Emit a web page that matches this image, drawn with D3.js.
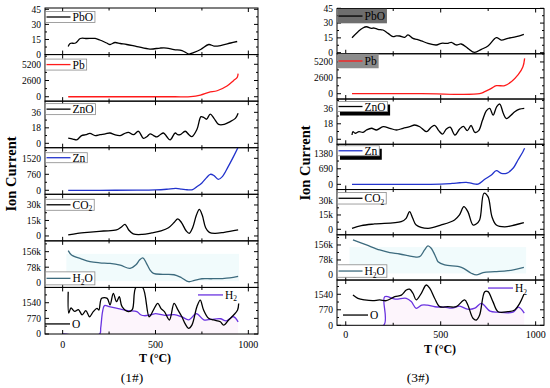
<!DOCTYPE html>
<html><head><meta charset="utf-8">
<script src="https://cdn.jsdelivr.net/npm/d3@7"></script>
<style>
body{margin:0;background:#fff}
svg{font-family:"Liberation Serif","Times New Roman",serif}
</style>
</head><body>
<svg id="chart" width="550" height="388"></svg>
<script>
// ---- data: [T (°C), ion current] ----
// figure (1#)
var pbo1 = [[30,8],[40,11],[70,11.5],[95,16],[130,16],[175,16],[200,14.5],[237,11.5],[255,10],[282,12],[310,11],[345,10],[400,8],[470,5.5],[525,6.5],[560,6.5],[600,5],[643,4],[680,0.5],[705,2],[743,5],[787,10],[815,8.5],[850,9],[905,11.5],[940,13]];
var pb1 = [[30,0],[300,0],[600,0],[690,20],[742,270],[787,700],[832,960],[885,1720],[920,2580],[940,3110],[945,3700]];
var zno1 = [[30,6],[55,5],[75,4],[102,9],[125,10],[147,11.6],[175,9],[201,10],[230,11],[255,12],[280,10],[309,9],[330,11],[354,12.8],[381,10],[408,14],[435,5.8],[455,8],[471,11],[490,9],[507,7.5],[525,10],[543,12],[560,8],[579,4],[606,12],[620,10],[633,10],[660,14],[680,10],[696,7.7],[723,16],[745,31],[760,30],[775,28],[795,34],[815,29],[840,22],[870,22],[900,25],[930,29],[945,35]];
var zn1 = [[30,0],[200,0],[400,5],[500,20],[560,50],[610,90],[640,60],[670,25],[700,30],[720,150],[750,350],[775,600],[795,760],[815,700],[838,520],[860,650],[890,1100],[920,1600],[945,2050]];
var co21 = [[30,1000],[80,2600],[150,3800],[220,4800],[290,5800],[315,8500],[336,11300],[355,6000],[380,2000],[430,1500],[480,3000],[530,5000],[570,8000],[600,13000],[620,16500],[640,13000],[665,5000],[682,2600],[700,8000],[720,20000],[736,25800],[752,20000],[770,8000],[790,3500],[820,2500],[870,3500],[945,5800]];
var h2o1 = [[30,161000],[48,139000],[100,120000],[147,106000],[200,100000],[255,97000],[310,88000],[363,72000],[395,90000],[415,115000],[432,125000],[450,100000],[470,65000],[489,47000],[540,42000],[600,40000],[640,25000],[678,5000],[710,12000],[750,20000],[800,20000],[860,21000],[900,24000],[945,32000]];
var o1 = [[30,2080],[33,1030],[45,1280],[65,1110],[85,1200],[105,940],[125,1150],[145,850],[165,1100],[185,1265],[195,1180],[210,1755],[240,1755],[255,1430],[273,2000],[290,1590],[305,1835],[320,1345],[354,1100],[375,1200],[395,2300],[430,2300],[466,850],[490,1200],[512,1510],[530,1250],[548,1100],[575,690],[600,1510],[620,1200],[642,850],[660,500],[678,280],[696,440],[723,1345],[741,1670],[759,1180],[786,770],[813,690],[849,605],[867,440],[894,690],[921,935],[942,1180],[948,1500]];
var h21 = [[0,0],[199,0],[205,300],[215,1100],[225,1400],[250,1350],[300,1250],[350,1150],[400,1100],[420,950],[440,900],[480,960],[500,1000],[550,920],[600,950],[640,850],[680,700],[720,1000],[760,700],[800,720],[850,750],[880,650],[920,850],[945,600]];

// figure (3#)
var pbo3 = [[33,15.2],[65,21.3],[90,25],[109,26.3],[135,24.7],[150,25],[170,23.7],[196,23],[223,19.6],[249,16.2],[265,17],[284,16.9],[310,15.5],[328,18],[354,14.5],[375,13.5],[398,12],[433,9.5],[477,7.8],[503,9.5],[538,9.5],[556,10.5],[582,7.8],[608,8.8],[643,4.4],[678,0.3],[714,3.4],[749,6.8],[793,15.2],[819,12.8],[854,14.5],[898,16.2],[938,18.6]];
var pb3 = [[33,0],[400,0],[705,0],[732,330],[767,880],[793,1310],[837,1310],[872,1970],[907,3070],[933,4430],[942,5800]];
var zno3 = [[33,5],[38,8.8],[50,7],[70,9],[90,8],[109,10.8],[136,12.8],[162,10.8],[197,14.6],[232,12.8],[267,10.8],[302,12.8],[337,14.6],[363,16.6],[390,14.6],[425,8.8],[450,14],[470,16],[490,10],[510,6],[530,12],[550,14],[575,5],[600,12],[620,15],[640,10],[660,16],[680,8],[700,10],[720,22],[740,33],[758,36],[776,28],[795,38],[811,41],[830,30],[846,24],[870,28],[890,32],[915,35],[940,36]];
var zn3 = [[33,0],[300,0],[500,10],[560,40],[600,70],[635,89],[665,40],[697,10],[732,222],[767,414],[793,605],[819,490],[846,490],[881,712],[907,1081],[933,1450],[942,1600]];
var co23 = [[33,1000],[82,3800],[152,5600],[292,8000],[318,11500],[336,18500],[353,11500],[371,4500],[433,1000],[503,4500],[573,9800],[599,15000],[622,23700],[643,18500],[670,4500],[687,5600],[705,9800],[728,37800],[749,34200],[770,13200],[793,4500],[837,2600],[890,4500],[938,6900]];
var h2o3 = [[38,182000],[109,156000],[179,130000],[232,116000],[284,109000],[354,95000],[389,95000],[415,130000],[433,151000],[450,139000],[477,87000],[486,69000],[521,52000],[609,40000],[661,9000],[688,0],[723,12000],[784,17000],[854,22000],[938,40000]];
var o3 = [[38,1500],[64,1340],[99,1260],[143,1220],[178,1260],[213,1220],[258,1420],[293,1500],[319,1750],[336,1790],[354,1590],[371,1260],[398,1590],[424,2000],[442,1840],[468,1340],[495,925],[538,925],[582,925],[626,1260],[643,1010],[670,350],[688,263],[705,510],[732,1670],[749,1670],[775,1175],[802,675],[854,675],[890,760],[916,1090],[938,1540]];
var h23 = [[0,0],[200,0],[205,1420],[260,1300],[319,1340],[345,1180],[371,845],[400,1000],[430,1000],[470,920],[520,900],[560,850],[600,950],[640,800],[680,850],[714,1090],[760,700],[800,650],[880,650],[910,900],[940,600]];

// tick values
var xTicks = [0, 500, 1000];
var xMinor = [250, 750];
var ticksPbO = [0, 15, 30, 45];
var ticksPb = [0, 2600, 5200];
var ticksZnO = [0, 18, 36];
var ticksZn1 = [0, 760, 1520];
var ticksZn3 = [0, 690, 1380];
var ticksCO2 = [0, 15000, 30000];
var ticksH2O = [0, 78000, 156000];
var ticksO = [0, 770, 1540];

var kFmt = function(d) { return d == 0 ? "0" : (d / 1000) + "k"; };
var plainFmt = function(d) { return String(d); };

var RED = "#ff1a1a", BLUE = "#2233cc", TEAL = "#3d6b7e", PURPLE = "#6a33e0";

// legend box styles
var boxPlain = {fill: "#fff", stroke: "#8a8a8a"};
var boxDark = {fill: "#6e6e6e", stroke: "none"};
var boxGray = {fill: "#8c8c8c", stroke: "none"};
var boxShadow = {fill: "#fff", stroke: "#8a8a8a", shadow: true};

var figs = [
	{x0: 45, x1: 258, top: 8, bottom: 334, xdom: [-95, 1052], name: "(1#)", nameX: 132, titleX: 155, tickDy: 10, titleDy: 28, ionX: 16, ionY: 174,
	 panels: [
		{dom: [0, 46.3], ticks: ticksPbO, fmt: plainFmt, lines: [[pbo1, "#000"]], leg: {t: "PbO", dy: 3.5, h: 11, box: boxPlain}},
		{dom: [-706, 6757], ticks: ticksPb, fmt: plainFmt, lines: [[pb1, RED]], leg: {t: "Pb", dy: 4.5, h: 11, box: boxPlain, color: RED}},
		{dom: [-5.1, 49], ticks: ticksZnO, fmt: plainFmt, lines: [[zno1, "#000"]], leg: {t: "ZnO", dy: 2.5, h: 11, box: boxPlain}},
		{dom: [-190, 2024], ticks: ticksZn1, fmt: plainFmt, lines: [[zn1, BLUE]], leg: {t: "Zn", dy: 5, h: 10, box: boxPlain, color: BLUE}},
		{dom: [-4740, 40350], ticks: ticksCO2, fmt: kFmt, lines: [[co21, "#000"]], leg: {t: "CO", sub: "2", dy: 5, h: 11, box: boxPlain}},
		{dom: [-23700, 210300], ticks: ticksH2O, fmt: kFmt, lines: [[h2o1, TEAL]], tint: true, leg: {t: "H", sub: "2", post: "O", dy: 31, h: 13, box: boxPlain, color: TEAL}},
		{dom: [0, 2293], ticks: ticksO, fmt: plainFmt, lines: [[h21, PURPLE, true], [o1, "#000"]],
		 free: [{t: "O", x: 0, y: 36.5, color: "#000"}, {t: "H", sub: "2", x: 153, y: 7.5, color: PURPLE}]}
	 ]},
	{x0: 337, x1: 544, top: 8.5, bottom: 325.3, xdom: [-46, 1044], name: "(3#)", nameX: 418, titleX: 440, tickDy: 9.5, titleDy: 28, ionX: 310, ionY: 163,
	 panels: [
		{dom: [-1.1, 44.8], ticks: ticksPbO, fmt: plainFmt, lines: [[pbo3, "#000"]], leg: {t: "PbO", dy: 0.3, h: 14.5, box: boxDark}},
		{dom: [-870, 6545], ticks: ticksPb, fmt: plainFmt, lines: [[pb3, RED]], leg: {t: "Pb", dy: 0, h: 14.5, box: boxGray, color: RED}},
		{dom: [-5.8, 46.8], ticks: ticksZnO, fmt: plainFmt, lines: [[zno3, "#000"]], leg: {t: "ZnO", dy: 2.5, h: 10, box: boxShadow}},
		{dom: [-231, 1780], ticks: ticksZn3, fmt: plainFmt, lines: [[zn3, BLUE]], leg: {t: "Zn", dy: 1.5, h: 10, box: boxShadow, color: BLUE}},
		{dom: [-5770, 41700], ticks: ticksCO2, fmt: kFmt, lines: [[co23, "#000"]], leg: {t: "CO", sub: "2", dy: 3, h: 11.5, box: boxPlain}},
		{dom: [-26500, 209000], ticks: ticksH2O, fmt: kFmt, lines: [[h2o3, TEAL]], tint: true, leg: {t: "H", sub: "2", post: "O", dy: 30, h: 12.5, box: boxPlain, color: TEAL}},
		{dom: [0, 2246], ticks: ticksO, fmt: plainFmt, lines: [[h23, PURPLE, true], [o3, "#000"]],
		 free: [{t: "O", x: 6, y: 35, color: "#000"}, {t: "H", sub: "2", x: 151, y: 8, color: PURPLE}]}
	 ]}
];

var svg = d3.select("#chart");
var defs = svg.append("defs");

// writes "CO" + subscript "2" + "O" into a text element
function writeLabel(txt, d) {
	txt.append("tspan").text(d.t);
	if (d.sub) {
		txt.append("tspan").attr("font-size", 7.5).attr("dy", 2.5).text(d.sub);
		if (d.post) txt.append("tspan").attr("dy", -2.5).text(d.post);
	}
}

figs.forEach(function(f, fi) {
	var n = f.panels.length;
	var ph = (f.bottom - f.top) / n;
	var x = d3.scaleLinear().domain(f.xdom).range([f.x0, f.x1]);

	f.panels.forEach(function(p, pi) {
		var pt = f.top + pi * ph, pb = pt + ph;
		var y = d3.scaleLinear().domain(p.dom).range([pb, pt]);
		var g = svg.append("g");
		var clipId = "clip" + fi + "_" + pi;
		defs.append("clipPath").attr("id", clipId)
			.append("rect").attr("x", f.x0).attr("y", pt).attr("width", f.x1 - f.x0).attr("height", ph);

		var plot = g.append("g").attr("clip-path", "url(#" + clipId + ")");

		// faint background tint like in the figure
		if (p.tint) {
			plot.append("rect").attr("x", x(20)).attr("width", x(950) - x(20))
				.attr("y", y(145000)).attr("height", y(8000) - y(145000))
				.attr("fill", "#f1fbfc");
		}

		p.lines.forEach(function(l) {
			var line = d3.line().x(function(d) { return x(d[0]); }).y(function(d) { return y(d[1]); })
				.curve(d3.curveCatmullRom.alpha(0.5));
			if (l[2]) {
				var area = d3.area().x(function(d) { return x(d[0]); }).y0(y(0)).y1(function(d) { return y(d[1]); })
					.curve(d3.curveCatmullRom.alpha(0.5));
				plot.append("path").datum(l[0]).attr("d", area).attr("fill", "#fdf5fc");
			}
			plot.append("path").datum(l[0]).attr("d", line)
				.attr("fill", "none").attr("stroke", l[1]).attr("stroke-width", 1.3).attr("stroke-linejoin", "round");
		});

		// y ticks, inward on both sides
		var step = p.ticks[1] - p.ticks[0];
		var minors = [];
		for (var v = p.ticks[0] - step / 2; v <= p.dom[1]; v += step) {
			if (v >= p.dom[0]) minors.push(v);
		}
		p.ticks.forEach(function(t) {
			g.append("line").attr("x1", f.x0).attr("x2", f.x0 + 4).attr("y1", y(t)).attr("y2", y(t)).attr("stroke", "#000");
			g.append("line").attr("x1", f.x1).attr("x2", f.x1 - 4).attr("y1", y(t)).attr("y2", y(t)).attr("stroke", "#000");
			g.append("text").attr("x", f.x0 - 4).attr("y", y(t)).attr("dy", "0.35em")
				.attr("text-anchor", "end").attr("font-size", 9.5).text(p.fmt(t));
		});
		minors.forEach(function(t) {
			g.append("line").attr("x1", f.x0).attr("x2", f.x0 + 2).attr("y1", y(t)).attr("y2", y(t)).attr("stroke", "#000");
			g.append("line").attr("x1", f.x1).attr("x2", f.x1 - 2).attr("y1", y(t)).attr("y2", y(t)).attr("stroke", "#000");
		});

		// x ticks on top and bottom edge of each panel
		xTicks.concat(xMinor).forEach(function(t) {
			var len = xTicks.indexOf(t) >= 0 ? 4 : 2.5;
			g.append("line").attr("x1", x(t)).attr("x2", x(t)).attr("y1", pb).attr("y2", pb - len).attr("stroke", "#000");
			g.append("line").attr("x1", x(t)).attr("x2", x(t)).attr("y1", pt).attr("y2", pt + len).attr("stroke", "#000");
		});

		g.append("rect").attr("x", f.x0).attr("y", pt).attr("width", f.x1 - f.x0).attr("height", ph)
			.attr("fill", "none").attr("stroke", "#000").attr("stroke-width", 1);

		// legend
		if (p.leg) {
			var L = p.leg;
			var lg = g.append("g");
			var bx = f.x0 + 0.5, by = pt + L.dy;
			var txt = lg.append("text").attr("x", bx + 27).attr("y", by + L.h / 2).attr("dy", "0.35em")
				.attr("font-size", 11.5).attr("fill", "#000");
			writeLabel(txt, L);
			var w = 27 + txt.node().getComputedTextLength() + 2;
			if (L.box.shadow) {
				lg.insert("rect", "text").attr("x", bx + 2.5).attr("y", by + 3).attr("width", w).attr("height", L.h + 1).attr("fill", "#000");
			}
			lg.insert("rect", "text").attr("x", bx).attr("y", by).attr("width", w).attr("height", L.h)
				.attr("fill", L.box.fill).attr("stroke", L.box.stroke).attr("stroke-width", 0.8);
			lg.insert("line", "text").attr("x1", bx + 1).attr("x2", bx + 25).attr("y1", by + L.h / 2).attr("y2", by + L.h / 2)
				.attr("stroke", L.color || "#000").attr("stroke-width", 1.3);
		}
		if (p.free) {
			p.free.forEach(function(L) {
				var lx = f.x0 + L.x, ly = pt + L.y;
				g.append("line").attr("x1", lx).attr("x2", lx + 25).attr("y1", ly).attr("y2", ly)
					.attr("stroke", L.color).attr("stroke-width", 1.3);
				var t2 = g.append("text").attr("x", lx + 27).attr("y", ly).attr("dy", "0.35em").attr("font-size", 11.5);
				writeLabel(t2, L);
			});
		}
	});

	// x tick labels under the last panel
	xTicks.forEach(function(t) {
		svg.append("text").attr("x", x(t)).attr("y", f.bottom + f.tickDy).attr("dy", "0.35em")
			.attr("text-anchor", "middle").attr("font-size", 10).text(t);
	});
	svg.append("text").attr("x", f.titleX).attr("y", f.bottom + f.titleDy)
		.attr("text-anchor", "middle").attr("font-size", 12).attr("font-weight", "bold").text("T (°C)");
	svg.append("text").attr("x", f.nameX).attr("y", 382)
		.attr("text-anchor", "middle").attr("font-size", 13.5).text(f.name);
	svg.append("text").attr("transform", "translate(" + f.ionX + "," + f.ionY + ") rotate(-90)")
		.attr("text-anchor", "middle").attr("font-size", 14.5).attr("font-weight", "bold").text("Ion Current");
});
</script>
</body></html>
